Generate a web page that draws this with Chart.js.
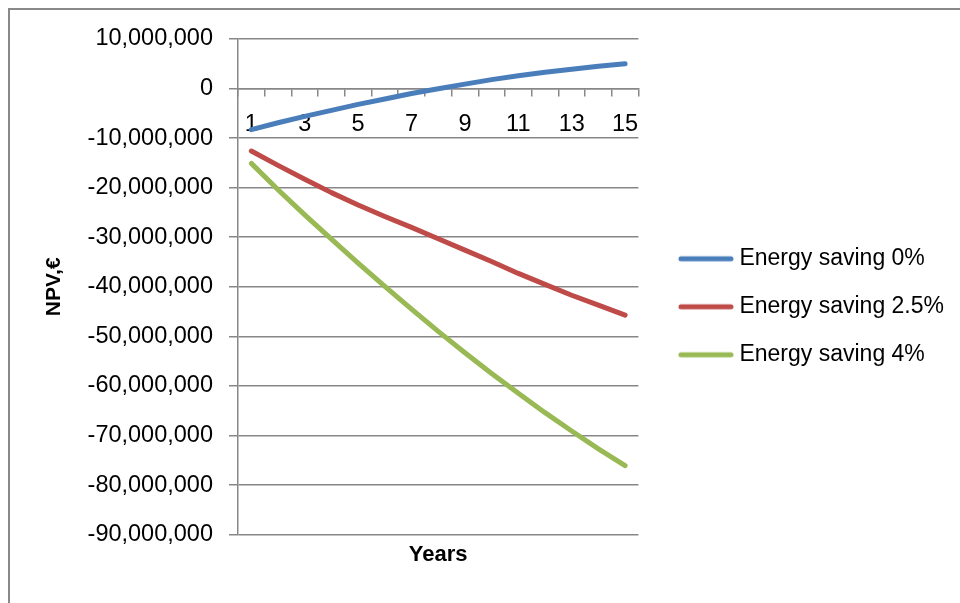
<!DOCTYPE html>
<html>
<head>
<meta charset="utf-8">
<script src="https://cdn.jsdelivr.net/npm/chart.js@4/dist/chart.umd.min.js"></script>
<style>
  html, body { margin: 0; padding: 0; background: #fff; width: 960px; height: 603px; overflow: hidden; }
  #frame { position: absolute; left: 8px; top: 8px; width: 1000px; height: 700px; border: 2px solid #898989; }
  #wrap { position: absolute; left: 0; top: 0; width: 960px; height: 603px; }
</style>
</head>
<body>
<div id="frame"></div>
<div id="wrap"><canvas id="npv" width="960" height="603"></canvas></div>
<script>
// Project years on the category axis
const years = ['1', '2', '3', '4', '5', '6', '7', '8', '9', '10', '11', '12', '13', '14', '15'];

// Cumulative NPV (EUR) per year for each energy-saving scenario
const saving0 = [-8300000, -6900000, -5600000, -4400000, -3200000, -2100000, -1000000, -50000,
                 900000, 1800000, 2600000, 3300000, 3900000, 4500000, 5000000];
const saving25 = [-12600000, -15500000, -18300000, -21000000, -23500000, -25800000, -28000000, -30300000,
                  -32600000, -34900000, -37300000, -39500000, -41700000, -43700000, -45700000];
const saving4 = [-15100000, -20400000, -25500000, -30400000, -35200000, -39900000, -44500000, -49000000,
                 -53300000, -57500000, -61500000, -65400000, -69100000, -72700000, -76100000];

const seriesNames = ['Energy saving 0%', 'Energy saving 2.5%', 'Energy saving 4%'];
const seriesColors = ['#4A7EBB', '#BE4B48', '#98B954'];

// Value axis range and step
const yMin = -90000000;
const yMax = 10000000;
const yStep = 10000000;

const FONT = "'Liberation Sans', Arial, sans-serif";
const GRID = '#878787';
const tickFontSize = 23.5;
const legendFontSize = 23;
const lineWidth = 5;

// Short line swatch used as the legend marker
function swatch(color) {
  const c = document.createElement('canvas');
  c.width = 56; c.height = 8;
  const g = c.getContext('2d');
  g.strokeStyle = color;
  g.lineWidth = lineWidth;
  g.lineCap = 'round';
  g.beginPath();
  g.moveTo(3, 4);
  g.lineTo(53, 4);
  g.stroke();
  return c;
}

// Legend geometry: vertical spacing, marker slot, spacer between plot and legend
const legendPad = 25;
const markerBox = 44;
const gapAxisWidth = 20.5;

const seriesValues = [saving0, saving25, saving4];

new Chart(document.getElementById('npv'), {
  type: 'line',
  data: {
    labels: years,
    datasets: seriesValues.map((vals, i) => ({
      label: seriesNames[i],
      data: vals,
      borderColor: seriesColors[i],
      backgroundColor: seriesColors[i],
      borderWidth: lineWidth,
      borderCapStyle: 'round',
      borderJoinStyle: 'round',
      pointRadius: 0,
      pointHoverRadius: 0,
      tension: 0,
      fill: false
    }))
  },
  options: {
    responsive: false,
    animation: false,
    devicePixelRatio: 1,
    layout: { padding: { left: 20, top: 39, right: 6, bottom: 35 } },
    plugins: {
      tooltip: { enabled: false },
      legend: {
        position: 'right',
        fullSize: false,
        align: 'center',
        maxWidth: 600,
        title: { display: true, text: ' ', font: { size: 10 }, padding: { top: 0, bottom: 28 } },
        labels: {
          usePointStyle: true,
          pointStyleWidth: markerBox,
          padding: legendPad,
          color: '#000',
          font: { family: FONT, size: legendFontSize },
          generateLabels: (chart) => chart.data.datasets.map((ds, i) => ({
            text: ds.label,
            fillStyle: ds.borderColor,
            strokeStyle: ds.borderColor,
            lineWidth: 0,
            pointStyle: swatch(ds.borderColor),
            hidden: false,
            datasetIndex: i,
            fontColor: '#000'
          }))
        }
      }
    },
    scales: {
      x: {
        type: 'category',
        position: { y: 0 },
        offset: true,
        grid: { offset: true, drawOnChartArea: false, drawTicks: true, tickLength: 7, color: GRID, lineWidth: 1.5 },
        border: { display: true, color: GRID, width: 1.5 },
        ticks: {
          autoSkip: false,
          maxRotation: 0,
          padding: 15,
          color: '#000',
          font: { family: FONT, size: tickFontSize },
          callback: (v, i) => (i % 2 === 0 ? years[i] : '')
        }
      },
      xTitle: {
        type: 'category',
        position: 'bottom',
        display: true,
        grid: { display: false, drawTicks: false },
        border: { display: false },
        ticks: { display: false },
        title: {
          display: true,
          text: 'Years',
          color: '#000',
          font: { family: FONT, size: 22, weight: 'bold' },
          padding: { top: 7, bottom: 0 }
        }
      },
      y: {
        type: 'linear',
        position: 'left',
        min: yMin,
        max: yMax,
        afterFit: (s) => { s.width = 218; },
        grid: { color: GRID, lineWidth: 1.5, drawTicks: true, tickLength: 9 },
        border: { display: true, color: GRID, width: 1.5 },
        ticks: {
          stepSize: yStep,
          padding: 16,
          color: '#000',
          font: { family: FONT, size: tickFontSize },
          callback: (v) => Number(v).toLocaleString('en-US')
        },
        title: {
          display: true,
          text: 'NPV,€',
          color: '#000',
          font: { family: FONT, size: 21, weight: 'bold' },
          padding: { top: 22, bottom: 0 }
        }
      },
      gap: {
        type: 'linear',
        position: 'right',
        display: true,
        grid: { display: false, drawTicks: false },
        border: { display: false },
        ticks: { display: false },
        afterFit: (s) => { s.width = gapAxisWidth; }
      }
    }
  }
});
</script>
</body>
</html>
